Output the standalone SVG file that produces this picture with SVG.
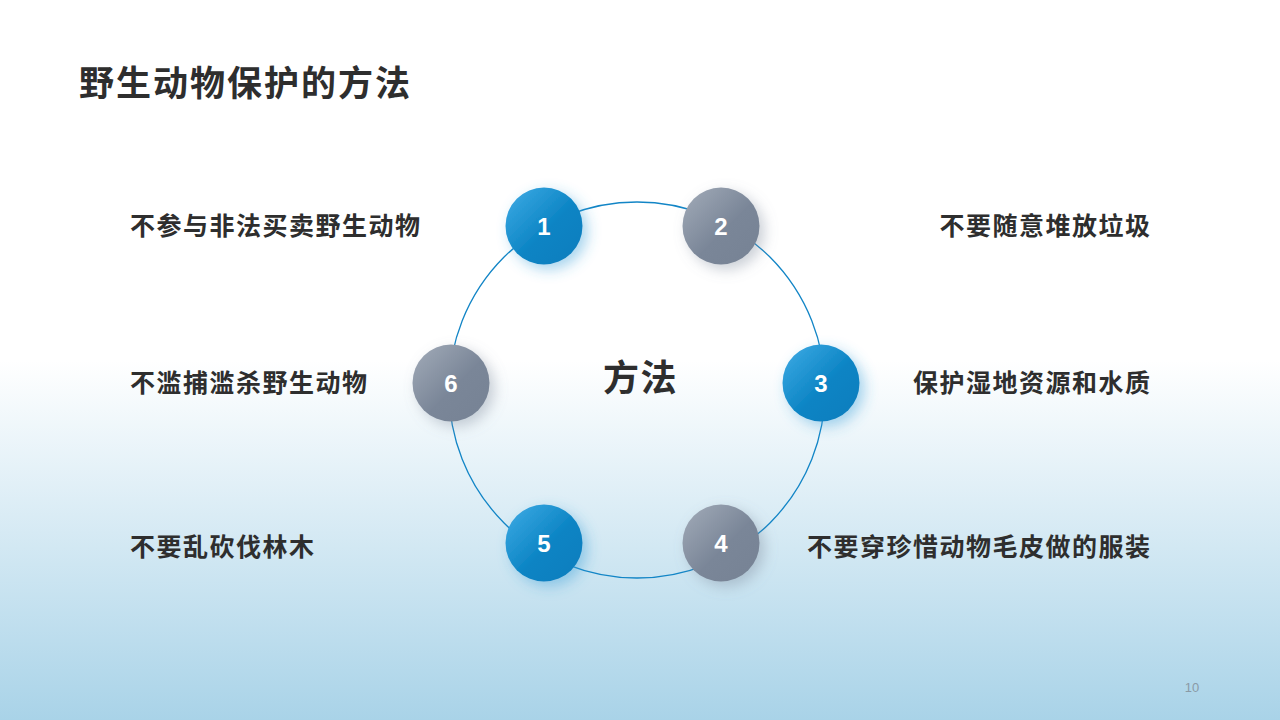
<svg xmlns="http://www.w3.org/2000/svg" width="1280" height="720" viewBox="0 0 1280 720">
<defs>
<linearGradient id="bg" x1="0" y1="0" x2="0" y2="1">
<stop offset="0" stop-color="#ffffff"/>
<stop offset="0.5" stop-color="#ffffff"/>
<stop offset="1" stop-color="#a9d3e8"/>
</linearGradient>
<linearGradient id="blue" x1="0" y1="0" x2="1" y2="1">
<stop offset="0" stop-color="#40ade6"/>
<stop offset="0.55" stop-color="#0c84c4"/>
<stop offset="1" stop-color="#0a7dbd"/>
</linearGradient>
<linearGradient id="gray" x1="0" y1="0" x2="1" y2="1">
<stop offset="0" stop-color="#a3acb9"/>
<stop offset="0.55" stop-color="#7a8698"/>
<stop offset="1" stop-color="#768294"/>
</linearGradient>
<filter id="glowB" x="-50%" y="-50%" width="200%" height="200%">
<feGaussianBlur in="SourceAlpha" stdDeviation="7"/>
<feOffset dx="5" dy="5" result="b"/>
<feFlood flood-color="#3a9fd8" flood-opacity="0.45"/>
<feComposite in2="b" operator="in"/>
<feMerge><feMergeNode/><feMergeNode in="SourceGraphic"/></feMerge>
</filter>
<filter id="glowG" x="-50%" y="-50%" width="200%" height="200%">
<feGaussianBlur in="SourceAlpha" stdDeviation="7"/>
<feOffset dx="5" dy="5" result="b"/>
<feFlood flood-color="#7a8698" flood-opacity="0.4"/>
<feComposite in2="b" operator="in"/>
<feMerge><feMergeNode/><feMergeNode in="SourceGraphic"/></feMerge>
</filter>
</defs>
<style>
.lbl{font-family:"Noto Sans CJK SC","Noto Sans",sans-serif;font-weight:700;font-size:25px;letter-spacing:1.5px;fill:#2e2e2e}
.num{font-family:"Liberation Sans","Noto Sans",sans-serif;font-weight:700;font-size:24px;fill:#ffffff;text-anchor:middle}
.title{font-family:"Noto Sans CJK SC","Noto Sans",sans-serif;font-weight:700;font-size:35px;letter-spacing:2px;fill:#2e2e2e}
.ctr{font-family:"Noto Sans CJK SC","Noto Sans",sans-serif;font-weight:700;font-size:36px;letter-spacing:1.5px;fill:#2e2e2e}
</style>
<rect width="1280" height="720" fill="url(#bg)"/>
<text class="title" x="79" y="96">野生动物保护的方法</text>
<g id="connectors">
<circle cx="637" cy="390" r="188" fill="none" stroke="#1285c6" stroke-width="1.3"/>
</g>
<g id="center"><text class="ctr" x="603" y="391">方法</text></g>
<g id="node1"><circle cx="544" cy="226" r="38.5" fill="url(#blue)" filter="url(#glowB)"/><text class="num" x="544" y="235">1</text></g>
<g id="node2"><circle cx="721" cy="226" r="38.5" fill="url(#gray)" filter="url(#glowG)"/><text class="num" x="721" y="235">2</text></g>
<g id="node3"><circle cx="821" cy="383" r="38.5" fill="url(#blue)" filter="url(#glowB)"/><text class="num" x="821" y="392">3</text></g>
<g id="node4"><circle cx="721" cy="543" r="38.5" fill="url(#gray)" filter="url(#glowG)"/><text class="num" x="721" y="552">4</text></g>
<g id="node5"><circle cx="544" cy="543" r="38.5" fill="url(#blue)" filter="url(#glowB)"/><text class="num" x="544" y="552">5</text></g>
<g id="node6"><circle cx="451" cy="383" r="38.5" fill="url(#gray)" filter="url(#glowG)"/><text class="num" x="451" y="392">6</text></g>
<g id="labels">
<text class="lbl" x="130" y="235">不参与非法买卖野生动物</text>
<text class="lbl" x="130" y="392">不滥捕滥杀野生动物</text>
<text class="lbl" x="130" y="556">不要乱砍伐林木</text>
<text class="lbl" x="1151.5" y="235" text-anchor="end">不要随意堆放垃圾</text>
<text class="lbl" x="1151.5" y="392" text-anchor="end">保护湿地资源和水质</text>
<text class="lbl" x="1151.5" y="556" text-anchor="end">不要穿珍惜动物毛皮做的服装</text>
</g>
<text x="1192" y="692" font-family="Liberation Sans,sans-serif" font-size="13" fill="#8a9aa6" text-anchor="middle">10</text>
</svg>
